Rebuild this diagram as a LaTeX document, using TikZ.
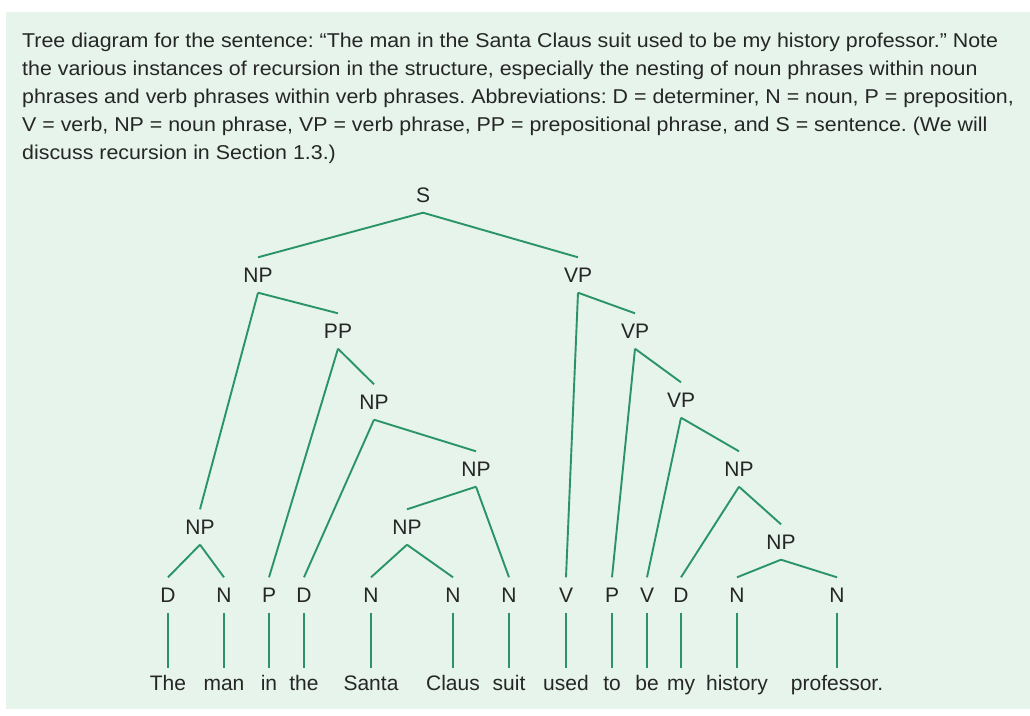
\documentclass[tikz,border=0pt]{standalone}
\usepackage{fontspec}
\usepackage{graphicx}
\newfontfamily\treefont{Liberation Sans}
\newfontfamily\capfont{Liberation Sans}
\definecolor{panel}{HTML}{E6F4EB}
\definecolor{branch}{HTML}{2A9467}
\definecolor{ink}{HTML}{262626}
\newlength\capwidth
\newcommand\capln[1]{\scalebox{\capratio}[1]{#1}}
\frenchspacing
\begin{document}
\settowidth\capwidth{\fontsize{20}{28}\selectfont\capfont Tree diagram for the sentence: “The man in the Santa Claus suit used to be my history professor.” Note}%
\pgfmathsetmacro\capratio{976/\the\capwidth}%
\begin{tikzpicture}[x=1pt,y=-1pt,
  lab/.style={font=\fontsize{21}{24}\selectfont\treefont, text=ink, inner sep=0pt,
              text height=15pt, text depth=0pt, minimum height=35pt},
  word/.style={lab, minimum height=30pt},
  br/.style={draw=branch, line width=1.9pt},
  capline/.style={anchor=base west, inner sep=0pt, text=ink,
                  font=\fontsize{20}{28}\selectfont\capfont}]
\useasboundingbox (0,0) rectangle (1030,715);
\fill[white] (0,0) rectangle (1030,715);
\fill[panel] (6,12) rectangle (1030,709);

\node[capline] (cap1) at (22,47)  {\capln{Tree diagram for the sentence: “The man in the Santa Claus suit used to be my history professor.” Note}};
\node[capline] (cap2) at (22,75)  {\capln{the various instances of recursion in the structure, especially the nesting of noun phrases within noun}};
\node[capline] (cap3) at (22,103) {\capln{phrases and verb phrases within verb phrases. Abbreviations: D = determiner, N = noun, P = preposition,}};
\node[capline] (cap4) at (22,131) {\capln{V = verb, NP = noun phrase, VP = verb phrase, PP = prepositional phrase, and S = sentence. (We will}};
\node[capline] (cap5) at (22,159) {\capln{discuss recursion in Section 1.3.)}};

% phrase nodes
\node[lab] (S)   at (423,195) {S};
\node[lab] (NPa) at (258,275) {NP};
\node[lab] (VPa) at (578,275) {VP};
\node[lab] (PP)  at (338,331) {PP};
\node[lab] (VPb) at (635,331) {VP};
\node[lab] (NPb) at (374,402) {NP};
\node[lab] (VPc) at (681,400) {VP};
\node[lab] (NPc) at (476,469) {NP};
\node[lab] (NPd) at (739,469) {NP};
\node[lab] (NPe) at (200,527) {NP};
\node[lab] (NPf) at (407,527) {NP};
\node[lab] (NPg) at (781,542) {NP};

% category leaves
\node[lab] (D1) at (168,595) {D};
\node[lab] (N1) at (224,595) {N};
\node[lab] (P1) at (269,595) {P};
\node[lab] (D2) at (304,595) {D};
\node[lab] (N2) at (371,595) {N};
\node[lab] (N3) at (453,595) {N};
\node[lab] (N4) at (509,595) {N};
\node[lab] (V1) at (566,595) {V};
\node[lab] (P2) at (612,595) {P};
\node[lab] (V2) at (647,595) {V};
\node[lab] (D3) at (681,595) {D};
\node[lab] (N5) at (737,595) {N};
\node[lab] (N6) at (837,595) {N};

% words
\node[word] (w1)  at (168,683) {The};
\node[word] (w2)  at (224,683) {man};
\node[word] (w3)  at (269,683) {in};
\node[word] (w4)  at (304,683) {the};
\node[word] (w5)  at (371,683) {Santa};
\node[word] (w6)  at (453,683) {Claus};
\node[word] (w7)  at (509,683) {suit};
\node[word] (w8)  at (566,683) {used};
\node[word] (w9)  at (612,683) {to};
\node[word] (w10) at (647,683) {be};
\node[word] (w11) at (681,683) {my};
\node[word] (w12) at (737,683) {history};
\node[word] (w13) at (837,683) {professor.};

% branches
\foreach \p/\c in {S/NPa, S/VPa, NPa/NPe, NPa/PP, PP/P1, PP/NPb, NPb/D2, NPb/NPc,
                   NPc/NPf, NPc/N4, NPf/N2, NPf/N3, NPe/D1, NPe/N1,
                   VPa/V1, VPa/VPb, VPb/P2, VPb/VPc, VPc/V2, VPc/NPd,
                   NPd/D3, NPd/NPg, NPg/N5, NPg/N6,
                   D1/w1, N1/w2, P1/w3, D2/w4, N2/w5, N3/w6, N4/w7,
                   V1/w8, P2/w9, V2/w10, D3/w11, N5/w12, N6/w13}
  \draw[br] (\p.south) -- (\c.north);
\end{tikzpicture}
\end{document}
